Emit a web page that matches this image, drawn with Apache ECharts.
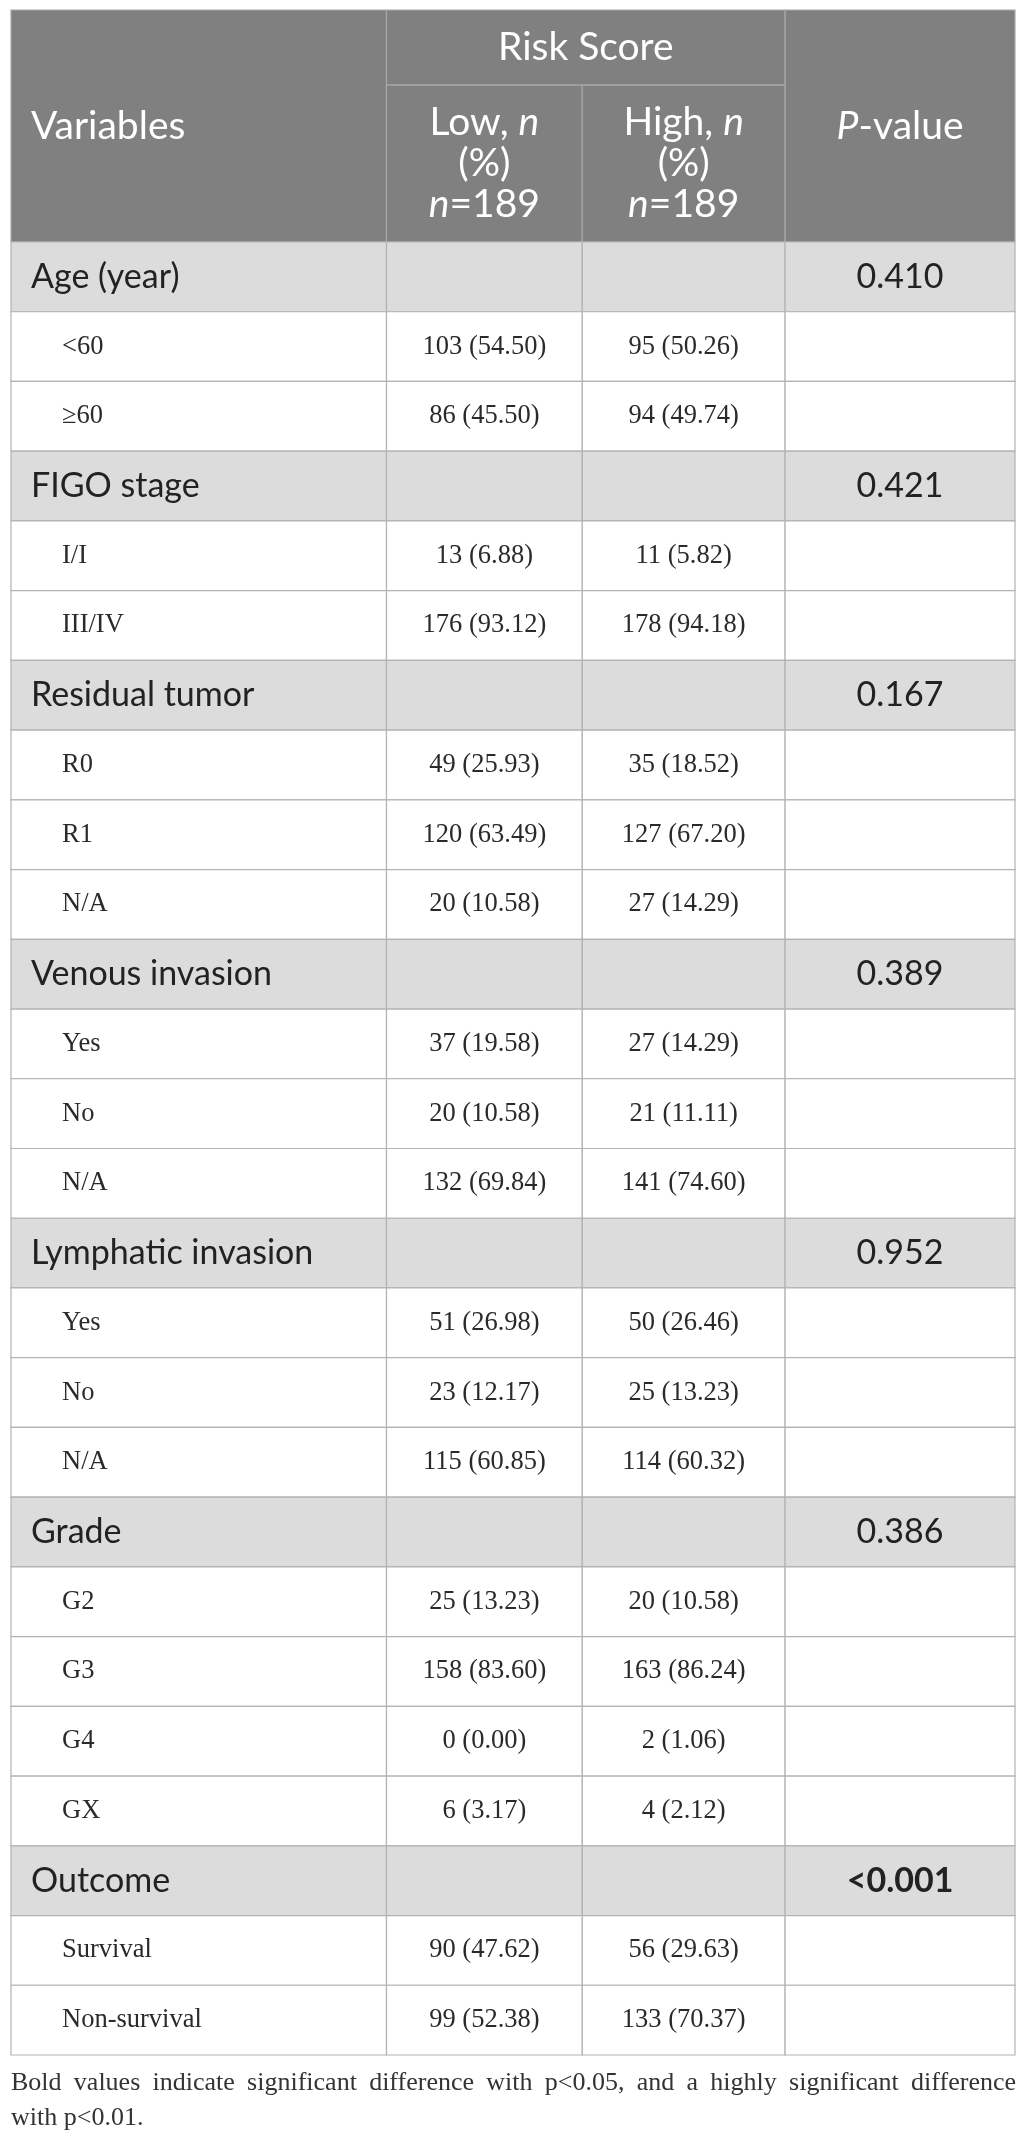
<!DOCTYPE html>
<html>
<head>
<meta charset="utf-8">
<script src="https://cdn.jsdelivr.net/npm/echarts@6/dist/echarts.min.js"></script>
<style>
  html, body { margin: 0; padding: 0; background: #fff; }
  #chart { width: 1026px; height: 2144px; }
</style>
</head>
<body>
<div id="chart"></div>
<script>
// table content
const groups = ['Age (year)', 'FIGO stage', 'Residual tumor', 'Venous invasion', 'Lymphatic invasion', 'Grade', 'Outcome']
const pValues = ['0.410', '0.421', '0.167', '0.389', '0.952', '0.386', '<0.001']
const pSignificant = [false, false, false, false, false, false, true]
const levels = [
  ['<60', '≥60'],
  ['I/I', 'III/IV'],
  ['R0', 'R1', 'N/A'],
  ['Yes', 'No', 'N/A'],
  ['Yes', 'No', 'N/A'],
  ['G2', 'G3', 'G4', 'GX'],
  ['Survival', 'Non-survival'],
]
const lowN = [[103, 86], [13, 176], [49, 120, 20], [37, 20, 132], [51, 23, 115], [25, 158, 0, 6], [90, 99]]
const lowPct = [[54.50, 45.50], [6.88, 93.12], [25.93, 63.49, 10.58], [19.58, 10.58, 69.84], [26.98, 12.17, 60.85], [13.23, 83.60, 0.00, 3.17], [47.62, 52.38]]
const highN = [[95, 94], [11, 178], [35, 127, 27], [27, 21, 141], [50, 25, 114], [20, 163, 2, 4], [56, 133]]
const highPct = [[50.26, 49.74], [5.82, 94.18], [18.52, 67.20, 14.29], [14.29, 11.11, 74.60], [26.46, 13.23, 60.32], [10.58, 86.24, 1.06, 2.12], [29.63, 70.37]]
const groupSize = 189
const footnoteLines = [
  'Bold values indicate significant difference with p<0.05, and a highly significant difference',
  'with p<0.01.',
]

// layout (axis units): column edges in %, header height in row units
const colEdges = [0, 37.4, 56.9, 77.1, 100]
const headerRows = 3.327
const riskSplit = 1.076

const sans = 'Lato, "Open Sans", sans-serif'
const serif = '"Liberation Serif", "DejaVu Serif", serif'
const HEAD_BG = '#808080'
const HEAD_LINE = '#a8a8a8'
const GROUP_BG = '#dcdcdc'
const LINE = '#b3b3b3'
const HEAD_SIZE = 39
const GROUP_SIZE = 34
const DATA_SIZE = 26.5
const NOTE_SIZE = 26

const cells = []
function addCell(c0, c1, r0, r1, opts) {
  cells.push(Object.assign({ value: [colEdges[c0], colEdges[c1], r0, r1] }, opts))
}

// header
const headRich = {
  t: { fontFamily: sans, fontSize: HEAD_SIZE, color: '#fff', lineHeight: 41 },
  i: { fontFamily: sans, fontSize: HEAD_SIZE, color: '#fff', lineHeight: 41, fontStyle: 'italic' },
}
addCell(0, 1, 0, headerRows, { bg: HEAD_BG, line: HEAD_LINE, text: '{t|Variables}', align: 'left', indent: 20, rich: headRich })
addCell(1, 3, 0, riskSplit, { bg: HEAD_BG, line: HEAD_LINE, text: '{t|Risk Score}', rich: headRich })
addCell(1, 2, riskSplit, headerRows, { bg: HEAD_BG, line: HEAD_LINE, text: '{t|Low, }{i|n}\n{t|(%)}\n{i|n}{t|=' + groupSize + '}', rich: headRich })
addCell(2, 3, riskSplit, headerRows, { bg: HEAD_BG, line: HEAD_LINE, text: '{t|High, }{i|n}\n{t|(%)}\n{i|n}{t|=' + groupSize + '}', rich: headRich })
addCell(3, 4, 0, headerRows, { bg: HEAD_BG, line: HEAD_LINE, text: '{i|P}{t|-value}', rich: headRich })

// body
const fmt = (n, p) => n + ' (' + p.toFixed(2) + ')'
let row = headerRows
groups.forEach((g, gi) => {
  addCell(0, 1, row, row + 1, { bg: GROUP_BG, line: LINE, text: g, align: 'left', indent: 20, font: sans, size: GROUP_SIZE, color: '#222' })
  addCell(1, 2, row, row + 1, { bg: GROUP_BG, line: LINE })
  addCell(2, 3, row, row + 1, { bg: GROUP_BG, line: LINE })
  addCell(3, 4, row, row + 1, { bg: GROUP_BG, line: LINE, text: pValues[gi], font: sans, size: GROUP_SIZE, color: '#222', bold: pSignificant[gi] })
  row += 1
  levels[gi].forEach((lv, li) => {
    addCell(0, 1, row, row + 1, { bg: '#fff', line: LINE, text: lv, align: 'left', indent: 51, font: serif, size: DATA_SIZE, color: '#2a2a2a' })
    addCell(1, 2, row, row + 1, { bg: '#fff', line: LINE, text: fmt(lowN[gi][li], lowPct[gi][li]), font: serif, size: DATA_SIZE, color: '#2a2a2a' })
    addCell(2, 3, row, row + 1, { bg: '#fff', line: LINE, text: fmt(highN[gi][li], highPct[gi][li]), font: serif, size: DATA_SIZE, color: '#2a2a2a' })
    addCell(3, 4, row, row + 1, { bg: '#fff', line: LINE })
    row += 1
  })
})
const totalRows = row

function renderCell(params, api) {
  const c = cells[params.dataIndex]
  const p0 = api.coord([api.value(0), api.value(2)])
  const p1 = api.coord([api.value(1), api.value(3)])
  const x = p0[0]
  const y = Math.min(p0[1], p1[1])
  const w = p1[0] - p0[0]
  const h = Math.abs(p1[1] - p0[1])
  const children = [{
    type: 'rect',
    shape: { x: x, y: y, width: w, height: h },
    style: { fill: c.bg, stroke: c.line, lineWidth: 1.2 },
  }]
  if (c.text) {
    const left = c.align === 'left'
    const style = {
      text: c.text,
      x: left ? x + c.indent : x + w / 2,
      y: y + h / 2,
      align: left ? 'left' : 'center',
      verticalAlign: 'middle',
    }
    if (c.rich) {
      style.rich = c.rich
      style.fill = '#fff'
    } else {
      style.fontFamily = c.font
      style.fontSize = c.size
      style.fontWeight = c.bold ? 'bold' : 'normal'
      style.fill = c.color
    }
    children.push({ type: 'text', style: style })
  }
  return { type: 'group', children: children }
}

// footnote: first line justified across the table width, second line left
const noteLeft = 11
const noteWidth = 1005
const noteY = [2083, 2118]
const measure = document.createElement('canvas').getContext('2d')
measure.font = NOTE_SIZE + 'px ' + serif
const noteGraphics = []
const words = footnoteLines[0].split(' ')
const wordW = words.map(wd => measure.measureText(wd).width)
const gap = (noteWidth - wordW.reduce((a, b) => a + b, 0)) / (words.length - 1)
let wx = noteLeft
words.forEach((wd, i) => {
  noteGraphics.push({
    type: 'text', x: wx, y: noteY[0],
    style: { text: wd, fontFamily: serif, fontSize: NOTE_SIZE, fill: '#333', verticalAlign: 'middle' },
  })
  wx += wordW[i] + gap
})
noteGraphics.push({
  type: 'text', x: noteLeft, y: noteY[1],
  style: { text: footnoteLines[1], fontFamily: serif, fontSize: NOTE_SIZE, fill: '#333', verticalAlign: 'middle' },
})

const myChart = echarts.init(document.getElementById('chart'), null, { renderer: 'canvas' })
const option = {
  animation: false,
  grid: { left: 11, top: 10, width: 1004, height: 2045 },
  xAxis: { type: 'value', min: 0, max: 100, show: false },
  yAxis: { type: 'value', min: 0, max: totalRows, inverse: true, show: false },
  graphic: noteGraphics,
  series: [{
    type: 'custom',
    renderItem: renderCell,
    encode: { x: [0, 1], y: [2, 3] },
    data: cells.map(c => c.value),
    silent: true,
  }],
}
myChart.setOption(option)
</script>
</body>
</html>
